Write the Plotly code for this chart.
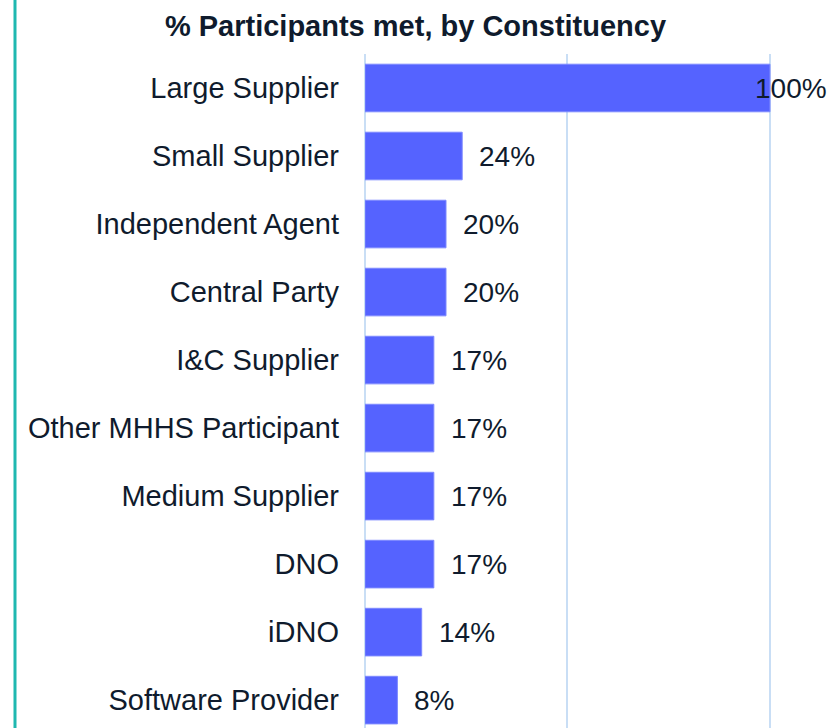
import plotly.graph_objects as go

categories = ["Large Supplier", "Small Supplier", "Independent Agent", "Central Party",
              "I&C Supplier", "Other MHHS Participant", "Medium Supplier", "DNO",
              "iDNO", "Software Provider"]
values = [100, 24, 20, 20, 17, 17, 17, 17, 14, 8]
value_labels = ["100%", "24%", "20%", "20%", "17%", "17%", "17%", "17%", "14%", "8%"]
title_text = "% Participants met, by Constituency"

W, H = 831, 728
L, R, T, B = 365, 59, 54, 0
text_color = "#0f1b2d"
font_family = "Liberation Sans, Arial, sans-serif"

fig = go.Figure()
fig.add_trace(go.Bar(
    y=categories, x=values, orientation="h",
    marker=dict(color="#5563FF", line=dict(color="#7d89ff", width=1)),
    hoverinfo="skip",
))

annotations = []
for c, v, t in zip(categories, values, value_labels):
    if v >= 100:
        annotations.append(dict(x=v, y=c, xref="x", yref="y", text=t, showarrow=False,
                                xanchor="right", xshift=59,
                                font=dict(size=28, color=text_color, family=font_family)))
    else:
        annotations.append(dict(x=v, y=c, xref="x", yref="y", text=t, showarrow=False,
                                xanchor="left", xshift=15,
                                font=dict(size=28, color=text_color, family=font_family)))

plot_w = W - L - R
fig.update_layout(
    width=W, height=H,
    margin=dict(l=L, r=R, t=T, b=B, pad=0),
    paper_bgcolor="white", plot_bgcolor="white",
    showlegend=False,
    bargap=0.3,
    title=dict(text="<b>" + title_text + "</b>", x=0.5, xanchor="center",
               xref="container", yref="container", y=1 - 26 / H, yanchor="middle",
               font=dict(size=29, color=text_color, family=font_family)),
    xaxis=dict(range=[0, 100.5], tickvals=[50, 100], showgrid=True, gridcolor="#c9def5", gridwidth=2,
               zeroline=True, zerolinecolor="#c9def5", zerolinewidth=2,
               showticklabels=False, fixedrange=True),
    yaxis=dict(type="category", range=[9.41, -0.5], showgrid=False, zeroline=False,
               ticklabelstandoff=25, fixedrange=True,
               tickfont=dict(size=29, color=text_color, family=font_family)),
    annotations=annotations,
    shapes=[dict(type="line", xref="paper", yref="paper",
                 x0=(15 - L) / plot_w, x1=(15 - L) / plot_w, y0=-0.02, y1=1 + T / (H - T),
                 line=dict(color="#1fb8b0", width=3))],
)

fig.write_html("out.html", config={"displayModeBar": False},
               post_script="document.body.style.margin='0';")
